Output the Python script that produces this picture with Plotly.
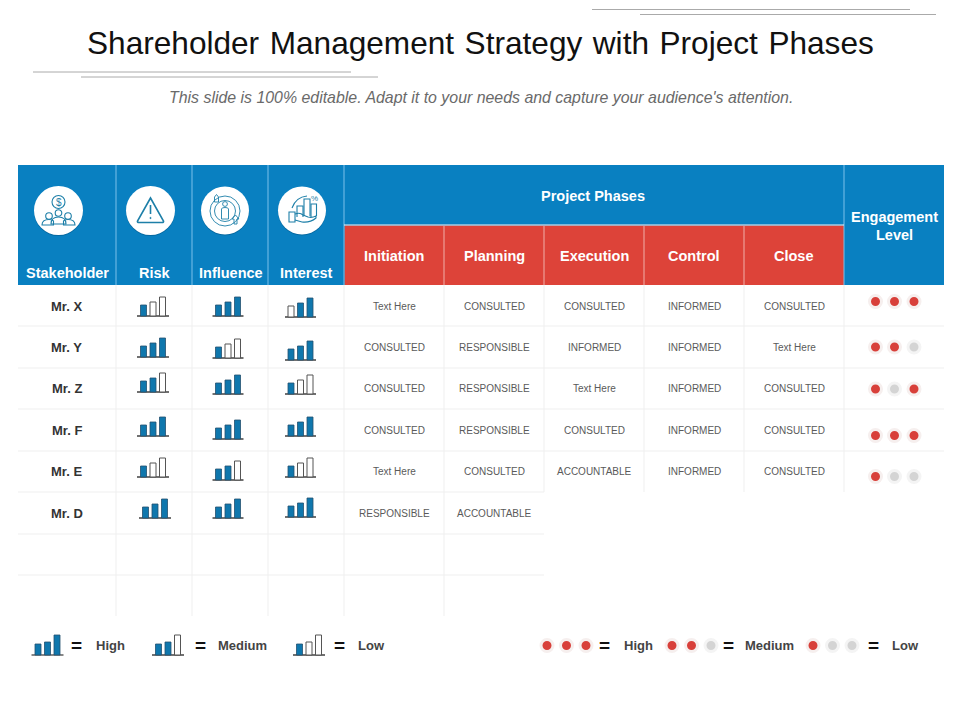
import plotly.graph_objects as go

# table content
title = "Shareholder Management Strategy with Project Phases"
subtitle = "This slide is 100% editable. Adapt it to your needs and capture your audience's attention."
stakeholders = ["Mr. X", "Mr. Y", "Mr. Z", "Mr. F", "Mr. E", "Mr. D"]
phases = ["Initiation", "Planning", "Execution", "Control", "Close"]
phase_text = [
    ["Text Here", "CONSULTED", "CONSULTED", "INFORMED", "CONSULTED"],
    ["CONSULTED", "RESPONSIBLE", "INFORMED", "INFORMED", "Text Here"],
    ["CONSULTED", "RESPONSIBLE", "Text Here", "INFORMED", "CONSULTED"],
    ["CONSULTED", "RESPONSIBLE", "CONSULTED", "INFORMED", "CONSULTED"],
    ["Text Here", "CONSULTED", "ACCOUNTABLE", "INFORMED", "CONSULTED"],
    ["RESPONSIBLE", "ACCOUNTABLE"],
]

# 1 = filled bar, 0 = outline bar
risk = ["100", "111", "110", "111", "100", "111"]
influence = ["111", "100", "111", "111", "110", "111"]
interest = ["011", "111", "100", "111", "100", "111"]
engagement = ["111", "110", "101", "111", "100"]

bar_heights = [11, 14, 19]
legend_bar_heights = [11, 13, 20]
legend_labels = ["High", "Medium", "Low"]
legend_bars = ["111", "110", "100"]
legend_dots = ["111", "110", "100"]

# layout, in pixels of the slide
BLUE = "#0980c1"
RED = "#dd4339"
col_x = [18, 116, 192, 268, 344, 444, 544, 644, 744, 844, 944]
row_y = [285, 326, 368, 409, 451, 492, 534, 575, 616]
text_y = [306, 347, 388, 430, 471, 513]
risk_base = [316, 357, 392, 436, 477, 518]
influence_base = [316, 358, 394, 439, 480, 518]
interest_base = [317, 360, 394, 436, 477, 517]
dot_y = [301.5, 347, 389, 435.5, 476.5]
dot_x = [875.5, 894.5, 914]

fig = go.Figure()
shapes = []
notes = []


def rect(x0, y0, x1, y1, fill, line=None, w=1):
    shapes.append(dict(type="rect", x0=x0, y0=y0, x1=x1, y1=y1, fillcolor=fill,
                       line=dict(color=line, width=w if line else 0), layer="below"))


def seg(x0, y0, x1, y1, color, w=1):
    shapes.append(dict(type="line", x0=x0, y0=y0, x1=x1, y1=y1,
                       line=dict(color=color, width=w), layer="below"))


def txt(x, y, s, size, color="#444444", bold=False, italic=False, anchor="center"):
    if bold:
        s = "<b>" + s + "</b>"
    if italic:
        s = "<i>" + s + "</i>"
    notes.append(dict(x=x, y=y, text=s, showarrow=False, xanchor=anchor, yanchor="middle",
                      font=dict(family="Liberation Sans", size=size, color=color)))


def icon_circle(cx, cy, r, fill="rgba(0,0,0,0)", line="#1d7fa8", w=1.1, layer="above"):
    shapes.append(dict(type="circle", x0=cx - r, y0=cy - r, x1=cx + r, y1=cy + r,
                       fillcolor=fill, line=dict(color=line, width=w), layer=layer))


def icon_path(p, line="#1d7fa8", w=1.1, fill="rgba(0,0,0,0)"):
    shapes.append(dict(type="path", path=p, fillcolor=fill,
                       line=dict(color=line, width=w), layer="above"))


# decorative title lines
for x0, x1, y in [(592, 910, 9.5), (640, 936, 14.5), (33, 351, 72), (81, 378, 77)]:
    seg(x0, y, x1, y, "#aaaaaa", 1)

txt(480, 43, title.replace(" ", "\u2004"), 31.6, "#111111")
txt(480.5, 97, subtitle, 15.9, "#6a6a6a", italic=True)

# header blocks
rect(col_x[0], 165, col_x[-1], 285, BLUE)
rect(344.5, 225.5, 844, 285, RED)
for x in col_x[1:4]:
    seg(x, 165, x, 285, "#7cc0ea", 1)
seg(344, 165, 344, 285, "#7cc0ea", 1)
seg(844, 165, 844, 285, "#7cc0ea", 1)
seg(344, 225, 844, 225, "#f4f4f4", 1)
for x in col_x[5:9]:
    seg(x, 226, x, 285, "#f0b0aa", 1)

txt(67.5, 273, "Stakeholder", 14.5, "white", True)
txt(154.5, 273, "Risk", 14.5, "white", True)
txt(231, 273, "Influence", 14.5, "white", True)
txt(306, 273, "Interest", 14.5, "white", True)
txt(593, 196, "Project Phases", 14.5, "white", True)
txt(894.5, 217, "Engagement", 14.5, "white", True)
txt(894.5, 235, "Level", 14.5, "white", True)
for i, p in enumerate(phases):
    txt((col_x[4 + i] + col_x[5 + i]) / 2, 255.5, p, 14.5, "white", True)

# grid
GRID = "#efefef"
for y in row_y[1:5]:
    seg(18, y, 944, y, GRID)
for y in row_y[5:8]:
    seg(18, y, 544, y, GRID)
for x in col_x[1:6]:
    seg(x, 285, x, 616, GRID)
for x in col_x[6:10]:
    seg(x, 285, x, 492, GRID)

# row text
for i, name in enumerate(stakeholders):
    txt(66.5, text_y[i], name, 13, "#333333", True)
    for j, s in enumerate(phase_text[i]):
        txt((col_x[4 + j] + col_x[5 + j]) / 2, text_y[i], s, 10, "#5a5a5a")

# mini bar charts, collected per fill state
fill_x, fill_h, fill_b = [], [], []
empty_x, empty_h, empty_b = [], [], []


def add_mini(center, baseline, flags, heights, half_width):
    for k, f in enumerate(flags):
        x = center + (k - 1) * 9.5
        if f == "1":
            fill_x.append(x)
            fill_h.append(-heights[k])
            fill_b.append(baseline)
        else:
            empty_x.append(x)
            empty_h.append(-heights[k])
            empty_b.append(baseline)
    seg(center - half_width, baseline, center + half_width, baseline, "#111111", 1.2)


for i in range(6):
    add_mini(153 if i < 5 else 155, risk_base[i], risk[i], bar_heights, 16)
    add_mini(228, influence_base[i], influence[i], bar_heights, 15.5)
    add_mini(300.5, interest_base[i], interest[i], bar_heights, 15.5)

for center, flags in zip([47.5, 168, 309], legend_bars):
    add_mini(center, 655, flags, legend_bar_heights, 16)

fig.add_trace(go.Bar(x=fill_x, y=fill_h, base=fill_b, width=6,
                     marker=dict(color="#0f77ad", line=dict(color="#24506e", width=0.8))))
fig.add_trace(go.Bar(x=empty_x, y=empty_h, base=empty_b, width=6,
                     marker=dict(color="white", line=dict(color="#555555", width=1))))

# engagement dots
on_x, on_y, off_x, off_y = [], [], [], []
for i, flags in enumerate(engagement):
    for k, f in enumerate(flags):
        if f == "1":
            on_x.append(dot_x[k])
            on_y.append(dot_y[i])
        else:
            off_x.append(dot_x[k])
            off_y.append(dot_y[i])

for start, flags in zip([547, 672, 813], legend_dots):
    for k, f in enumerate(flags):
        x = start + k * 19.5
        if f == "1":
            on_x.append(x)
            on_y.append(645.5)
        else:
            off_x.append(x)
            off_y.append(645.5)

fig.add_trace(go.Scatter(x=on_x, y=on_y, mode="markers",
                         marker=dict(size=12, color="#d8403a", line=dict(color="#f6efee", width=3))))
fig.add_trace(go.Scatter(x=off_x, y=off_y, mode="markers",
                         marker=dict(size=12, color="#d4d4d4", line=dict(color="#f4f4f4", width=3))))

# legends
for x, lab_x, lab in [(76.5, 110.5, "High"), (200.5, 242.5, "Medium"), (339.5, 371.5, "Low"),
                      (604.5, 638, "High"), (728.5, 769.5, "Medium"), (873.5, 905, "Low")]:
    txt(x, 645.5, "=", 19, "#111111", True)
    txt(lab_x, 645, lab, 13, "#444444", True)

# header icons
for cx, r in [(58.5, 24.5), (150.5, 24.5), (225, 24), (302, 24)]:
    icon_circle(cx, 211.5, r, "rgba(0,60,100,0.35)", "rgba(0,0,0,0)", 0, "below")
    icon_circle(cx, 210.5, r, "white", "white", 0, "above")

# stakeholder icon
icon_circle(58.5, 202, 6.5)
notes.append(dict(x=58.5, y=202, text="$", showarrow=False,
                  font=dict(family="Liberation Sans", size=10, color="#1d7fa8")))
icon_circle(58.5, 213, 3.3)
icon_circle(49, 216, 3.3)
icon_circle(68, 216, 3.3)
icon_path("M 42 225 Q 42 219.5 49 219.5 Q 52 219.5 53.5 221 L 53.5 225 Z")
icon_path("M 75 225 Q 75 219.5 68 219.5 Q 65 219.5 63.5 221 L 63.5 225 Z")
icon_path("M 51 224 Q 51 217 58.5 217 Q 66 217 66 224 Z")

# risk icon
icon_path("M 150.5 198 L 163.5 221 Q 164 222.5 162 222.5 L 139 222.5 Q 137 222.5 137.5 221 Z", w=1.6)
seg(150.5, 205, 150.5, 214, "#1d7fa8", 1.6)
shapes[-1]["layer"] = "above"
icon_circle(150.5, 218, 0.6, "#1d7fa8", w=1)

# influence icon
icon_circle(225, 211, 15, w=0.9)
icon_circle(225, 211, 10.5, w=0.9)
icon_circle(225, 204, 2.4, w=0.9)
icon_path("M 221.5 219 L 221.5 209 Q 221.5 207.5 225 207.5 Q 228.5 207.5 228.5 209 L 228.5 219 Z", w=0.9)
icon_path("M 214.5 202 L 214.5 197 L 216.5 194.5 L 218.5 197 L 218.5 202 Z", w=0.9)
icon_path("M 234 224 L 234 219 L 232 219 L 235.5 215 L 239 219 L 237 219 L 237 224 Z", w=0.9)

# interest icon
icon_path("M 289 212 L 295 212 L 295 222 L 289 222 Z")
icon_path("M 295 214 Q 300 212 303 215 L 308 217 Q 312 218 316 216 L 316 218 Q 310 223 302 222 L 295 220")
icon_path("M 297 217 L 297 206 L 303 206 L 303 217")
icon_path("M 304 216 L 304 199 L 310 199 L 310 216")
icon_path("M 311 217 L 311 204 L 316.5 204 L 316.5 216")
icon_path("M 292 208 Q 296 197 307 196")
notes.append(dict(x=314, y=198, text="%", showarrow=False,
                  font=dict(family="Liberation Sans", size=8, color="#1d7fa8")))

fig.update_layout(
    width=960, height=720, autosize=False, margin=dict(l=0, r=0, t=0, b=0),
    paper_bgcolor="white", plot_bgcolor="white", showlegend=False, barmode="overlay",
    xaxis=dict(range=[0, 960], visible=False, fixedrange=True),
    yaxis=dict(range=[720, 0], visible=False, fixedrange=True),
    shapes=shapes, annotations=notes,
)

fig.write_html("out.html", post_script="document.body.style.margin='0';", config=dict(displayModeBar=False))
